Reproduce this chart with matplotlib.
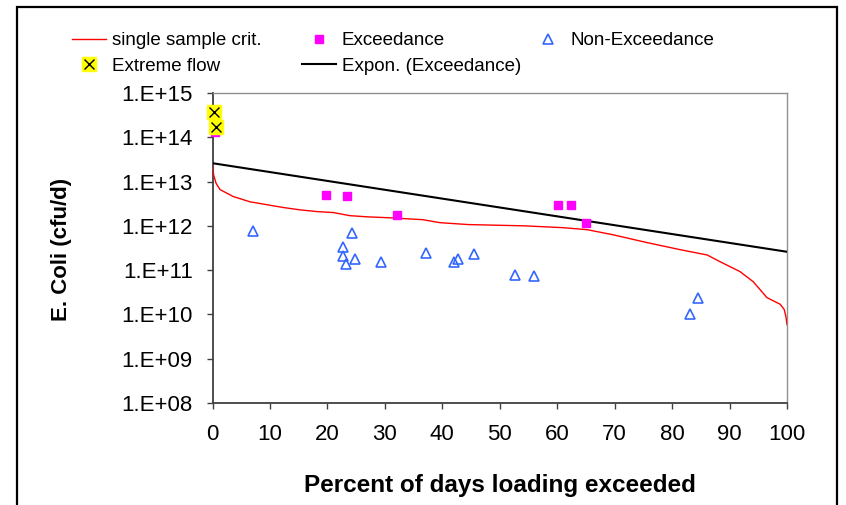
import numpy as np
import matplotlib
matplotlib.use('Agg')
import matplotlib.pyplot as plt
from matplotlib.patches import Rectangle
from matplotlib.ticker import FixedLocator, FuncFormatter

plot_file = 'out.png'

# single sample criterion curve
ssc_x = [0.0, 0.2, 0.6, 1.3, 3.6, 6.5, 9.5, 12.3, 15.2, 18.2, 21.0, 23.9, 26.9,
         30.4, 36.6, 39.6, 44.5, 54.4, 61.0, 65.2, 69.7, 75.6, 81.4, 86.1,
         88.3, 91.8, 94.1, 96.5, 98.8, 99.5, 99.8, 100.0]
ssc_y = [2.4e13, 1.4e13, 9.3e12, 6.6e12, 4.6e12, 3.5e12, 3.0e12, 2.6e12, 2.3e12,
         2.1e12, 2.0e12, 1.7e12, 1.6e12, 1.53e12, 1.38e12, 1.18e12, 1.07e12,
         1.0e12, 9.1e11, 8.2e11, 6.3e11, 4.2e11, 2.9e11, 2.2e11, 1.56e11,
         9.3e10, 5.5e10, 2.4e10, 1.7e10, 1.3e10, 9.0e9, 5.9e9]

# exceedance samples
exc_x = [0.5, 19.8, 23.4, 32.1, 60.1, 62.4, 65.0]
exc_y = [1.3e14, 5.0e12, 4.8e12, 1.8e12, 3.0e12, 3.0e12, 1.17e12]

# non-exceedance samples
nonexc_x = [7.0, 22.7, 22.7, 23.2, 24.3, 24.8, 29.3, 37.2, 42.0, 42.7, 45.5,
            52.7, 56.0, 83.1, 84.5]
nonexc_y = [7.8e11, 3.4e11, 2.1e11, 1.35e11, 7.0e11, 1.74e11, 1.5e11, 2.5e11,
            1.5e11, 1.74e11, 2.35e11, 7.6e10, 7.2e10, 1.0e10, 2.3e10]

# extreme flow samples
extreme_x = [0.3, 0.6]
extreme_y = [3.7e14, 1.7e14]

# exponential trendline of the exceedance points (end values)
trend_x = [0.0, 100.0]
trend_y = [2.6e13, 2.6e11]

x_ticks = np.arange(0, 101, 10)
y_exps = np.arange(8, 16)

plt.rcParams['font.family'] = ['Liberation Sans', 'DejaVu Sans']

fig = plt.figure(figsize=(8.46, 5.05), dpi=100)
ax = fig.add_axes([0.2512, 0.2020, 0.6791, 0.6138])

red, = ax.plot(ssc_x, ssc_y, color='red', lw=1.0, zorder=3)
trend, = ax.plot(trend_x, trend_y, color='black', lw=1.5, zorder=3)
exc, = ax.plot(exc_x, exc_y, 's', color='#FF00FF', ms=6, mec='#FF00FF',
               ls='none', zorder=4, clip_on=False)
nonexc, = ax.plot(nonexc_x, nonexc_y, '^', mfc='none', mec='#3366FF', mew=1.2,
                  ms=7, ls='none', zorder=4)
ext_bg, = ax.plot(extreme_x, extreme_y, 's', color='yellow', ms=9.5,
                  mec='yellow', ls='none', zorder=5, clip_on=False)
ext_x, = ax.plot(extreme_x, extreme_y, 'x', color='black', ms=7, mew=1.0,
                 ls='none', zorder=6, clip_on=False)

ax.set_xlim(0, 100)
ax.set_yscale('log')
ax.set_ylim(1e8, 1e15)
ax.xaxis.set_major_locator(FixedLocator(x_ticks))
ax.yaxis.set_major_locator(FixedLocator([10.0 ** e for e in y_exps]))
ax.yaxis.set_minor_locator(FixedLocator([]))
ax.yaxis.set_major_formatter(
    FuncFormatter(lambda v, p: '1.E+%02d' % int(round(np.log10(v)))))

ax.tick_params(axis='both', direction='out', length=4.3, width=1.0,
               color='#404040', labelsize=16)
ax.tick_params(axis='y', pad=10)
ax.tick_params(axis='x', pad=11)

for side in ['left', 'bottom']:
    ax.spines[side].set_color('#404040')
    ax.spines[side].set_linewidth(1.3)
for side in ['top', 'right']:
    ax.spines[side].set_color('#909090')
    ax.spines[side].set_linewidth(1.0)

fig.text(61 / 846, 1 - 249 / 505, 'E. Coli (cfu/d)', rotation=90,
         ha='center', va='center', fontsize=16, fontweight='bold')
fig.text(499.5 / 846, 1 - 492 / 505, 'Percent of days loading exceeded',
         ha='center', va='baseline', fontsize=17.5, fontweight='bold')

# legend, laid out in three columns like the original
leg_kw = dict(loc='upper left', frameon=False, borderpad=0, borderaxespad=0,
              handlelength=1.8, handletextpad=0.33, labelspacing=0.45,
              fontsize=13.5, bbox_transform=fig.transFigure)
leg_top = 1 - 32 / 505
l1 = fig.legend([red, (ext_bg, ext_x)], ['single sample crit.', 'Extreme flow'],
                bbox_to_anchor=(72 / 846, leg_top), **leg_kw)
l2 = fig.legend([exc, trend], ['Exceedance', 'Expon. (Exceedance)'],
                bbox_to_anchor=(302 / 846, leg_top), **leg_kw)
l3 = fig.legend([nonexc], ['Non-Exceedance'],
                bbox_to_anchor=(531 / 846, leg_top), **leg_kw)

# chart border
fig.patches.append(Rectangle((17 / 846, -0.1), 820 / 846, 1.1 - 7 / 505,
                             transform=fig.transFigure, fill=False,
                             edgecolor='black', lw=1.6, clip_on=False))

plt.savefig(plot_file, dpi=100)
plt.close()
